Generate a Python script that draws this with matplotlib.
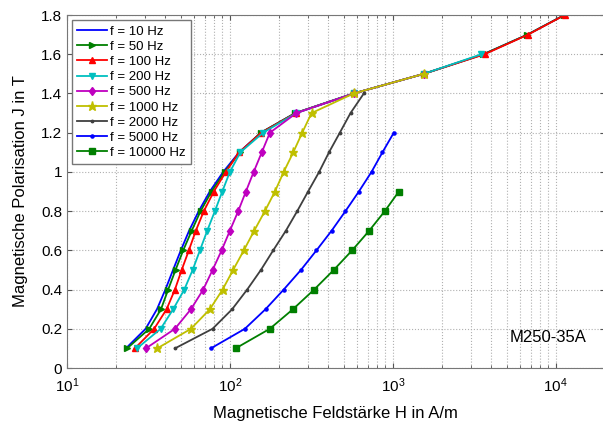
import numpy as np
import matplotlib
matplotlib.use("Agg")
import matplotlib.pyplot as plt
from matplotlib.ticker import FormatStrFormatter, LogLocator

plt.rcParams['font.family'] = ['Liberation Sans', 'DejaVu Sans']
plt.rcParams['mathtext.fontset'] = 'custom'
plt.rcParams['mathtext.rm'] = 'Liberation Sans'

# Polarisation J in T (gleiche Stufen fuer alle Kurven)
J = [0.1, 0.2, 0.3, 0.4, 0.5, 0.6, 0.7, 0.8, 0.9, 1.0, 1.1, 1.2, 1.3, 1.4, 1.5, 1.6, 1.7, 1.8]

# Feldstaerke H in A/m je Frequenz
H_10 = [23, 30.4, 35.7, 40.2, 44.8, 50, 56.2, 64.4, 75.3, 91, 114, 155, 252, 575, 1550, 3600, 6700, 11300]
H_50 = [23.4, 32, 37.8, 41.8, 46.4, 51.7, 58.3, 66.1, 77.2, 93, 115, 155, 252, 575, 1550, 3600, 6700, 11300]
H_100 = [26.1, 34.3, 40.9, 46, 50.6, 56, 61.8, 69.2, 79.7, 94.5, 114, 156, 254, 577, 1550, 3660, 6760, 11350]
H_200 = [26.9, 37.6, 44.9, 52.5, 59.1, 65.5, 72.6, 80.9, 89.8, 100, 116, 160, 256, 577, 1550, 3500]
H_500 = [30.5, 46, 57.7, 68.6, 78.3, 89, 100, 112.5, 125.4, 140, 157, 176, 256, 577, 1550]
H_1000 = [35.8, 57.7, 75.4, 90.2, 104.7, 121.8, 141, 164, 189, 214, 245, 278, 317, 576, 1550]
H_2000 = [46, 78.3, 103.3, 127.7, 155, 184.5, 220.6, 259, 302, 353, 406, 473, 550, 664]
H_5000 = [76.4, 123.6, 165.6, 214, 273, 340, 421, 512, 619, 740, 864, 1014]
H_10000 = [108.4, 175.8, 244, 329, 434, 563, 716, 893, 1089]

freqs = [10, 50, 100, 200, 500, 1000, 2000, 5000, 10000]
H_all = [H_10, H_50, H_100, H_200, H_500, H_1000, H_2000, H_5000, H_10000]
colors = ['#0000ff', '#007f00', '#ff0000', '#00bfbf', '#bf00bf', '#bfbf00', '#3f3f3f', '#0000ff', '#007f00']
markers = ['', '>', '^', 'v', 'd', '*', '.', '.', 's']
msizes = [0, 4.5, 5, 5, 4.5, 6.5, 3.5, 4.5, 4]

fig = plt.figure(figsize=(6.03, 4.23), dpi=100)
ax = fig.add_axes([0.111, 0.130, 0.892, 0.8345])

for f, H, c, m, ms in zip(freqs, H_all, colors, markers, msizes):
    ax.plot(H, J[:len(H)], color=c, marker=m, markersize=ms, linewidth=1.3,
            label='f = %d Hz' % f)

ax.set_xscale('log')
ax.set_xlim(10, 2e4)
ax.set_ylim(0, 1.8)
ax.set_yticks(np.arange(0, 1.81, 0.2))
ax.yaxis.set_major_formatter(FormatStrFormatter('%g'))
ax.xaxis.set_minor_locator(LogLocator(base=10, subs=np.arange(2, 10)))

ax.grid(True, which='major', linestyle=':', color='#b0b0b0', linewidth=0.8)
ax.grid(True, which='minor', axis='x', linestyle=':', color='#b0b0b0', linewidth=0.8)
ax.tick_params(direction='in', which='both', top=True, right=True, labelsize=11, color='#555555')
ax.tick_params(axis='x', which='major', pad=6)
for s in ax.spines.values():
    s.set_color('#777777')

ax.set_xlabel('Magnetische Feldstärke H in A/m', fontsize=12, labelpad=8)
ax.set_ylabel('Magnetische Polarisation J in T', fontsize=12, labelpad=9)
ax.text(0.895, 0.075, 'M250-35A', transform=ax.transAxes, fontsize=12, ha='center')

leg = ax.legend(loc='upper left', fontsize=9.5, fancybox=False, framealpha=1,
                edgecolor='#777777', handlelength=2.2, handletextpad=0.3,
                borderaxespad=0.4, labelspacing=0.22)

fig.savefig('out.png', dpi=100)
